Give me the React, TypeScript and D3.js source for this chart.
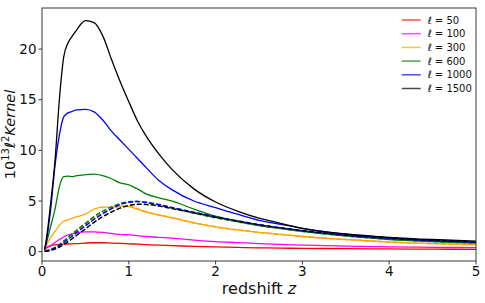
import React from "react";
import * as d3 from "d3";

const zGrid = [0.03, 0.05, 0.1, 0.15, 0.2, 0.25, 0.3, 0.35, 0.4, 0.5, 0.6, 0.7, 0.8, 0.9, 1.0, 1.1, 1.2, 1.35, 1.5, 1.75, 2.0, 2.25, 2.5, 2.75, 3.0, 3.5, 4.0, 4.5, 5.0];

const ell50 = [0.2, 0.4, 0.6, 0.68, 0.72, 0.74, 0.76, 0.78, 0.8, 0.85, 0.88, 0.88, 0.85, 0.82, 0.78, 0.74, 0.7, 0.64, 0.6, 0.52, 0.47, 0.42, 0.38, 0.35, 0.33, 0.3, 0.27, 0.25, 0.23];
const ell100 = [0.2, 0.35, 0.6, 0.9, 1.2, 1.45, 1.65, 1.76, 1.85, 1.95, 1.95, 1.9, 1.8, 1.7, 1.65, 1.58, 1.5, 1.42, 1.33, 1.15, 1.0, 0.9, 0.8, 0.72, 0.65, 0.55, 0.48, 0.43, 0.4];
const ell300 = [0.2, 0.6, 1.4, 2.0, 2.6, 3.0, 3.15, 3.3, 3.45, 3.7, 4.2, 4.4, 4.4, 4.5, 4.45, 4.2, 3.9, 3.6, 3.35, 2.85, 2.45, 2.15, 1.9, 1.7, 1.5, 1.2, 0.95, 0.8, 0.68];
const ell600 = [0.2, 0.8, 2.5, 4.2, 6.4, 7.4, 7.45, 7.4, 7.5, 7.6, 7.65, 7.5, 7.2, 6.8, 6.6, 6.2, 5.7, 5.3, 5.0, 4.2, 3.5, 3.0, 2.6, 2.3, 2.0, 1.55, 1.2, 1.0, 0.85];
const ell1000 = [0.2, 1.0, 4.2, 8.5, 11.5, 13.3, 13.7, 13.85, 14.0, 14.05, 13.8, 13.0, 11.9, 11.0, 10.1, 9.2, 8.3, 7.0, 6.1, 5.0, 4.35, 3.7, 3.1, 2.7, 2.3, 1.72, 1.35, 1.1, 0.95];
const ell1500 = [0.2, 1.2, 4.8, 9.0, 15.0, 19.2, 20.6, 21.3, 21.9, 22.8, 22.6, 21.3, 19.0, 16.8, 14.8, 12.9, 11.4, 9.6, 8.1, 6.2, 4.9, 4.0, 3.3, 2.8, 2.3, 1.75, 1.42, 1.2, 1.05];

const dash300 = [0.05, 0.1, 0.2, 0.4, 0.62, 0.95, 1.3, 1.65, 2.0, 2.65, 3.3, 3.8, 4.2, 4.45, 4.5, 4.25, 3.95, 3.62, 3.35, 2.85, 2.45, 2.15, 1.9, 1.7, 1.5, 1.2, 0.95, 0.8, 0.68];
const dash600 = [0.05, 0.1, 0.22, 0.42, 0.7, 1.05, 1.42, 1.78, 2.12, 2.8, 3.45, 4.0, 4.42, 4.75, 4.92, 4.95, 4.85, 4.6, 4.3, 3.8, 3.35, 2.95, 2.58, 2.28, 2.0, 1.55, 1.25, 1.0, 0.85];
const dash1000 = [0.05, 0.08, 0.18, 0.35, 0.58, 0.9, 1.22, 1.55, 1.9, 2.55, 3.2, 3.75, 4.25, 4.65, 4.88, 4.95, 4.88, 4.65, 4.35, 3.9, 3.45, 3.05, 2.68, 2.36, 2.08, 1.62, 1.3, 1.08, 0.92];
const dash1500 = [0.03, 0.05, 0.12, 0.25, 0.45, 0.72, 1.0, 1.3, 1.62, 2.25, 2.9, 3.45, 3.92, 4.3, 4.55, 4.68, 4.66, 4.5, 4.25, 3.84, 3.4, 3.02, 2.64, 2.34, 2.08, 1.65, 1.35, 1.12, 0.95];

const ellLabels = ["50", "100", "300", "600", "1000", "1500"];
const solidSeries = [ell50, ell100, ell300, ell600, ell1000, ell1500];
const colors = ["#ff0000", "#ff00ff", "#ffa500", "#008000", "#0000ff", "#000000"];
const dashedSeries = [dash300, dash600, dash1000, dash1500];
const dashedColors = ["#ffa500", "#008000", "#0000ff", "#000000"];

const xTicks = [0, 1, 2, 3, 4, 5];
const yTicks = [0, 5, 10, 15, 20];

const W = 485, H = 303;
const m = { left: 42, right: 476, top: 8, bottom: 261 };

export default function App() {
  const x = d3.scaleLinear().domain([0, 5]).range([m.left, m.right]);
  const y = d3.scaleLinear().domain([-0.92, 24.05]).range([m.bottom, m.top]);
  const line = (vals: number[]) =>
    d3.line<number>().x((_, i) => x(zGrid[i])).y((v) => y(v)).curve(d3.curveMonotoneX)(vals) || "";
  const font = "DejaVu Sans, sans-serif";
  return (
    <svg width={W} height={H} style={{ position: "absolute", left: 0, top: 0, background: "#fff" }} fontFamily={font}>
      <defs>
        <clipPath id="plotclip">
          <rect x={m.left} y={m.top} width={m.right - m.left} height={m.bottom - m.top} />
        </clipPath>
      </defs>
      <g clipPath="url(#plotclip)" fill="none">
        {solidSeries.map((s, i) => (
          <path key={"s" + i} d={line(s)} stroke={colors[i]} strokeWidth={1.3} />
        ))}
        {dashedSeries.map((s, i) => (
          <path key={"d" + i} d={line(s)} stroke={dashedColors[i]} strokeWidth={1.5} strokeDasharray="5,2" />
        ))}
      </g>
      <rect x={m.left} y={m.top} width={m.right - m.left} height={m.bottom - m.top} fill="none" stroke="#222" strokeWidth={0.9} />
      {xTicks.map((t) => (
        <g key={"x" + t}>
          <line x1={x(t)} x2={x(t)} y1={m.bottom} y2={m.bottom + 3.5} stroke="#222" strokeWidth={0.9} />
          <text x={x(t)} y={m.bottom + 15} textAnchor="middle" fontSize={13.5} fill="#111">{t}</text>
        </g>
      ))}
      {yTicks.map((t) => (
        <g key={"y" + t}>
          <line x1={m.left - 3.5} x2={m.left} y1={y(t)} y2={y(t)} stroke="#222" strokeWidth={0.9} />
          <text x={m.left - 5.5} y={y(t) + 4.8} textAnchor="end" fontSize={13.5} fill="#111">{t}</text>
        </g>
      ))}
      <text x={(m.left + m.right) / 2} y={294} textAnchor="middle" fontSize={16} fill="#111">
        redshift <tspan fontStyle="italic">z</tspan>
      </text>
      <text transform={`translate(15,${(m.top + m.bottom) / 2}) rotate(-90)`} textAnchor="middle" fontSize={14.5} fill="#111">
        10<tspan fontSize={10} dy={-6}>13</tspan><tspan fontStyle="italic" dy={6}>ℓ</tspan><tspan fontSize={10} dy={-6}>2</tspan><tspan fontStyle="italic" dy={6}>Kernel</tspan>
      </text>
      {ellLabels.map((l, i) => {
        const yy = 20 + i * 13.7;
        return (
          <g key={"lg" + i}>
            <line x1={401.7} x2={420.7} y1={yy} y2={yy} stroke={colors[i]} strokeWidth={1.5} opacity={0.7} />
            <text x={427.5} y={yy + 3.6} fontSize={10} fill="#111">
              <tspan fontStyle="italic">ℓ</tspan> = {l}
            </text>
          </g>
        );
      })}
    </svg>
  );
}
